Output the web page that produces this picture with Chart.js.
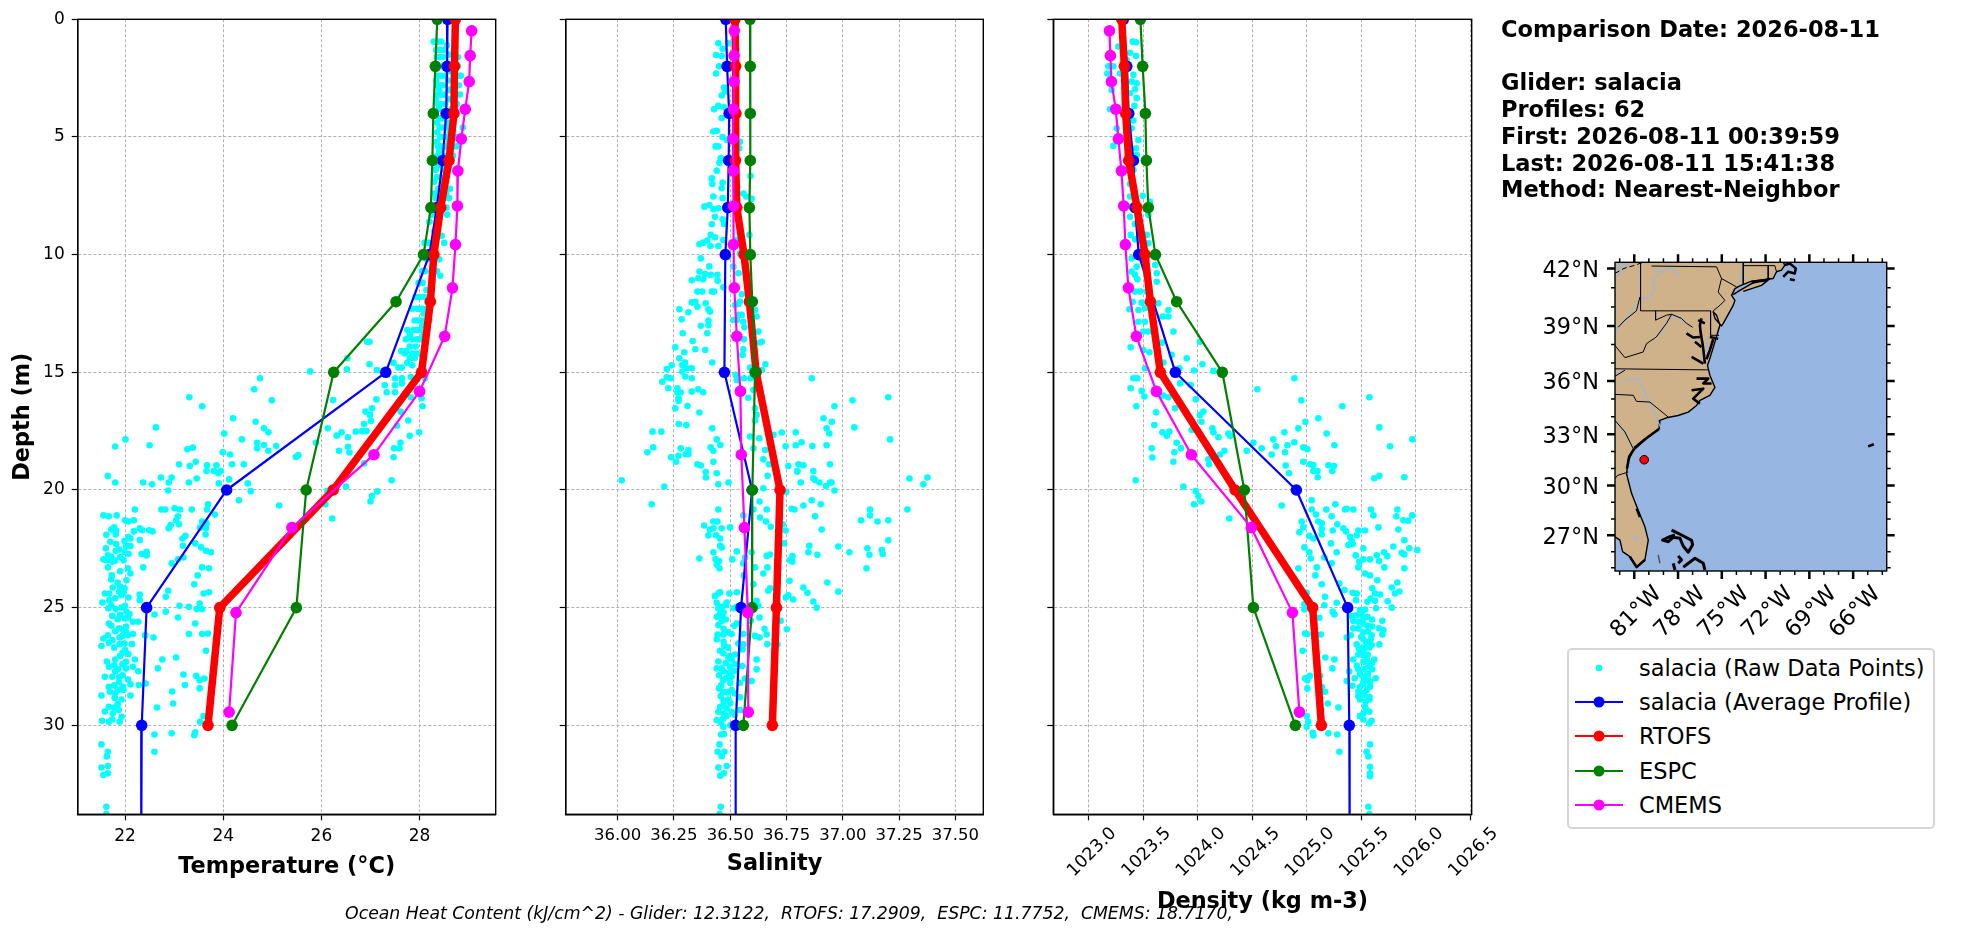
<!DOCTYPE html>
<html>
<head>
<meta charset="utf-8">
<title>salacia comparison</title>
<script src="https://cdn.jsdelivr.net/npm/chart.js@4"></script>
<style>
html, body { margin: 0; padding: 0; background: #fff; width: 1972px; height: 934px; overflow: hidden; }
canvas { position: absolute; top: 0; }
#info { position: absolute; left: 1501px; top: 16px; font: bold 22.5px/26.7px "DejaVu Sans"; white-space: pre; color: #000; }
#ohc { position: absolute; left: 289px; width: 1000px; top: 903px; text-align: center; font: italic 17.3px "DejaVu Sans"; white-space: pre; color: #000; }
#legend { position: absolute; left: 1567px; top: 648px; width: 364px; height: 177px; border: 2px solid #d5d5d5; border-radius: 5px; background: #fff; font: 22.5px "DejaVu Sans"; color: #000; }
#legend div { position: absolute; left: 0; height: 34px; line-height: 34px; white-space: pre; }
#legend svg { position: absolute; left: 6px; top: 0; }
#legend span { position: absolute; left: 70px; }
</style>
</head>
<body>
<canvas id="tempChart"></canvas>
<canvas id="salChart"></canvas>
<canvas id="densChart"></canvas>
<canvas id="mapChart"></canvas>
<div id="info"></div>
<div id="ohc"></div>
<div id="legend"></div>
<script>
// model + glider depth levels (m)
const modelDepth = [0, 2, 4, 6, 8, 10, 12, 15, 20, 25, 30];
const gliderDepth = [0, 2, 4, 6, 8, 10, 15, 20, 25, 30, 35];
const cmemsDepth = [0.49, 1.54, 2.65, 3.82, 5.08, 6.44, 7.93, 9.57, 11.41, 13.47, 15.81, 18.5, 21.6, 25.21, 29.44];

const gliderTemp = [28.57, 28.56, 28.54, 28.47, 28.35, 28.2, 27.31, 24.07, 22.44, 22.34, 22.33];
const rtofsTemp = [28.73, 28.71, 28.7, 28.6, 28.43, 28.29, 28.22, 28.04, 26.24, 23.93, 23.69];
const espcTemp = [28.36, 28.32, 28.28, 28.26, 28.23, 28.08, 27.52, 26.25, 25.69, 25.49, 24.18];
const cmemsTemp = [29.06, 29.03, 29.01, 28.93, 28.85, 28.78, 28.77, 28.73, 28.67, 28.51, 28.0, 27.07, 25.4, 24.26, 24.12];

const gliderSal = [36.48, 36.486, 36.495, 36.493, 36.489, 36.478, 36.474, 36.597, 36.548, 36.524, 36.524];
const rtofsSal = [36.521, 36.524, 36.525, 36.523, 36.529, 36.561, 36.585, 36.615, 36.721, 36.705, 36.687];
const espcSal = [36.588, 36.589, 36.589, 36.589, 36.585, 36.589, 36.598, 36.61, 36.598, 36.597, 36.558];
const cmemsSal = [36.518, 36.517, 36.517, 36.514, 36.512, 36.514, 36.515, 36.514, 36.518, 36.529, 36.545, 36.549, 36.563, 36.578, 36.58];

const gliderDens = [1023.318, 1023.349, 1023.367, 1023.41, 1023.425, 1023.459, 1023.795, 1024.905, 1025.376, 1025.391, 1025.394];
const rtofsDens = [1023.303, 1023.327, 1023.339, 1023.367, 1023.443, 1023.517, 1023.566, 1023.657, 1024.343, 1025.055, 1025.135];
const espcDens = [1023.474, 1023.495, 1023.52, 1023.529, 1023.547, 1023.612, 1023.807, 1024.226, 1024.428, 1024.511, 1024.896];
const cmemsDens = [1023.19, 1023.199, 1023.208, 1023.248, 1023.272, 1023.3, 1023.321, 1023.336, 1023.364, 1023.437, 1023.621, 1023.942, 1024.492, 1024.869, 1024.933];

// raw glider samples, [depth, value]
const rawTemp = [
[0.95,28.29],[0.95,28.36],[0.95,28.44],[1.3,28.34],[1.3,28.42],[1.3,28.5],[1.3,28.7],[1.6,28.35],[1.6,28.4],[1.6,28.48],[1.6,28.72],[1.6,28.78],
[2,28.38],[2,28.45],[2,28.5],[2,28.78],[2.4,28.37],[2.4,28.44],[2.4,28.52],[2.4,28.82],[2.4,28.84],[2.8,28.36],[2.8,28.42],[2.8,28.48],[2.8,28.74],[2.8,28.8],
[3.2,28.38],[3.2,28.44],[3.2,28.5],[3.2,28.74],[3.2,28.82],[3.6,28.38],[3.6,28.44],[3.6,28.52],[3.6,28.76],[4.2,28.4],[4.2,28.46],[4.2,28.5],
[4.6,28.41],[4.6,28.47],[4.6,28.55],[4.6,28.88],[5,28.42],[5,28.46],[5,28.55],[5,28.72],[5,28.8],[5.4,28.38],[5.4,28.44],[5.4,28.52],[5.4,28.75],
[5.8,28.36],[5.8,28.44],[5.8,28.5],[5.8,28.68],[6.2,28.38],[6.2,28.44],[6.2,28.6],[6.7,28.35],[6.7,28.42],[7.2,28.38],[7.2,28.46],[7.2,28.62],
[7.6,28.33],[7.6,28.5],[7.6,28.6],[8,28.24],[8,28.3],[8,28.42],[8,28.55],[8.3,28.25],[8.3,28.56],[8.6,28.2],[9,28.3],[9.2,28.45],[9.5,28.1],[9.5,28.18],[9.5,28.28],[9.5,28.5],
[10.2,28.15],[10.2,28.4],[10.2,28.3],[10.7,28.05],[10.7,28.12],[10.7,28.3],[10.7,28.35],[10.9,28.42],[11.2,27.98],[11.2,28.06],[11.8,27.92],[11.8,28],[11.8,28.1],
[12.3,27.85],[12.3,27.95],[12.3,28],[12.3,28.05],[12.3,28.15],[12.8,27.9],[12.8,27.96],[12.8,28.02],[12.8,28.1],[12.8,28.2],[13.2,27.75],[13.2,27.88],[13.2,27.95],[13.2,28],[13.2,28.16],
[13.6,27.72],[13.6,27.85],[13.6,27.95],[13.6,28],[13.7,26.93],[13.7,26.98],[14.1,27.63],[14.1,27.73],[14.2,27.7],[14.2,27.85],[14.2,27.95],[14.4,26.53],[14.66,26.98],[14.6,27.47],[14.6,27.75],[14.8,27.57],[14.8,27.64],
[14.96,25.77],[14.87,26.52],[14.9,27.13],[15.25,24.75],[15.72,24.63],[16.06,23.31],[16.44,23.57],[16.19,24.99],[16.18,26.24],[16.15,27.12],[16.53,27.03],[16.67,26.9],[16.81,26.99],[17.07,27.01],[17.2,26.87],[17.5,26.83],[17.5,26.92],
[15.04,27.33],[15.25,27.5],[15.25,27.64],[15.2,27.82],[15.25,28.11],[15.55,27.29],[15.55,27.5],[15.47,27.64],[15.85,27.33],[15.85,27.5],[16.06,27.82],[16.1,28.04],[16.44,28.06],[16.67,27.61],[17.05,27.77],[17.27,27.54],[17.55,27.99],[17.7,27.8],[17.99,27.61],[18.23,27.48],[18.23,27.59],[18.61,27.47],
[16.95,24.2],[17.1,24.66],[17.38,24.83],[17.55,24.92],[17.34,22.63],[17.6,24.02],[17.85,24.38],[17.85,22.01],[18.15,21.8],[18.1,22.5],[18.2,23.38],[18.27,23.27],[17.99,24.69],[18.23,24.69],[18.09,24.83],[18.13,25.08],[18.33,24.92],[18.4,23.99],[18.49,24.14],[18.52,25.53],[18.6,25.48],
[17.38,26.13],[17.69,26.31],[17.55,26.41],[17.76,26.54],[17.52,26.7],[17.99,25.89],[18.16,26.54],[18.33,26.36],[18.41,26.57],[18.91,23.1],[18.98,23.32],[18.8,23.44],[18.95,23.67],[18.95,23.86],[18.91,24.18],[18.91,24.42],[19.19,23.66],[19.19,23.81],[19.29,23.9],[19.19,23.95],[18.87,26.87],
[19.41,21.65],[19.68,21.8],[19.68,22.37],[19.76,22.55],[19.47,22.73],[19.47,22.95],[19.68,22.89],[19.68,23.3],[19.51,23.46],[20.02,22.88],[19.72,23.91],[19.55,24.12],[19.72,24.5],[20.05,24.56],[20.44,24.32],[19.59,27.43],[19.85,26.5],[20.06,27.14],[20.26,27.03],[20.49,27],[20.61,26.08],[20.66,25.14],[21.21,26.22],[20.03,26.12],
[20.83,22.2],[21.08,21.56],[21.12,21.67],[21.08,21.83],[21.29,22],[21.34,22.07],[21.29,22.18],[20.83,22.74],[20.83,22.82],[20.78,23.01],[20.83,23.12],[20.83,23.36],[20.61,23.69],[20.83,23.67],[21.04,23.83],[21.12,23.08],[21.29,23.04],[21.49,22.93],[21.63,22.89],[21.46,23.1],[21.34,23.57],[21.42,23.66],[21.6,23.53],[21.63,23.65],[21.89,23.64],
[21.68,21.72],[21.59,21.78],[21.73,21.82],[21.89,21.81],[21.63,22.3],[21.71,22.35],[21.76,22.18],[21.71,22.49],[21.76,22.56],[22,22.07],[22.17,21.99],[22.06,22.11],[22.13,22.3],[21.95,23.23],[22.06,23.17],[22.37,23.18],[22.27,23.43],[22.44,23.55],[22.58,23.65],[22.65,23.75],
[22.48,21.61],[22.53,21.88],[22.38,22.02],[22.38,22.11],[22.58,21.81],[22.63,21.99],[22.72,22.07],[22.72,22.34],[22.63,22.44],[22.78,22.44],[22.95,21.56],[22.77,21.65],[22.84,21.72],[22.98,21.63],[23.05,21.74],[22.98,21.97],[23.29,21.65],[23.33,22.06],[23.29,22.37],[23.55,22.11],[23.63,21.73],
[22.87,23.19],[22.94,23.08],[23.12,22.95],[23.29,23.57],[23.33,23.71],[23.63,23.48],[24.01,23.41],[23.84,22.03],[23.93,21.85],[24.14,21.75],[24.18,21.99],[24.32,21.88],[24.37,21.97],[24.4,21.59],[24.4,21.68],[24.47,21.92],[24.57,22.07],[24.44,22.3],[24.68,22.3],[24.68,21.68],[24.28,22.88],[24.54,22.83],[24.4,23.6],[24.35,23.71],
[24.78,21.54],[24.92,22],[25.03,21.66],[25.06,21.81],[24.99,21.93],[25.17,22.03],[25.27,22.09],[25.29,22.6],[25.17,22.83],[24.92,23.11],[24.96,23.3],[24.82,23.52],[25.06,23.46],[25.06,23.57],[25.42,23.08],[25.67,23.43],[25.49,21.85],[25.46,21.99],[25.42,22.06],[25.6,22.16],[25.6,22.27],[25.67,21.67],[25.77,21.72],[25.88,21.88],[25.95,21.97],
[26.17,22.06],[26.12,22.16],[26.17,22.41],[26.27,22.58],[26.12,23.3],[26.12,23.57],[26.1,23.69],[26.31,21.56],[26.17,21.65],[26.38,21.74],[26.27,21.89],[26.03,22.02],[26.63,21.52],[26.49,21.67],[26.55,21.89],[26.52,21.99],[26.55,22.14],[26.92,21.95],[26.97,22.07],[26.83,23.65],[27.2,22.76],[27.12,23.04],[27.2,22.2],[27.2,21.8],[27.29,21.63],[27.3,22.02],[27.51,21.67],[27.62,21.86],[27.58,22.02],[27.51,22.16],[27.7,22.27],[27.58,22.67],
[27.84,23.19],[27.9,23.45],[28.01,23.62],[28.08,23.52],[27.94,21.59],[27.94,21.74],[27.87,21.95],[28.15,21.88],[28.26,22.11],[28.29,22.28],[28.22,22.42],[28.29,23.22],[28.43,23.52],[28.36,21.67],[28.57,21.69],[28.5,21.85],[28.5,21.97],[28.56,22.96],[28.73,21.52],[28.73,22.11],[28.84,21.79],[28.9,21.93],[29.07,22.98],[29.21,21.67],[29.24,21.78],[29.35,21.87],[29.41,21.59],[29.24,22.65],[29.64,21.93],[29.81,21.53],[29.85,21.67],[29.75,21.74],[29.85,21.89],[29.85,23.53],[29.6,23.6],[30.39,22.6],[30.34,22.95],[30.42,23.41],[30.3,23.43],[30.81,21.52],[31.12,21.65],[31.32,21.63],[31.12,22.6],[31.79,21.52],[31.73,21.65],[32.11,21.56],[32.04,21.65],[33.46,21.62],[33.77,21.62],
// denser parts of the cloud
[1.1,28.56],[1.5,28.6],[1.9,28.33],[2.2,28.6],[2.6,28.34],[2.6,28.58],[3,28.4],[3,28.6],[3.4,28.34],[3.4,28.6],[3.8,28.4],[3.8,28.66],[4.4,28.36],[4.4,28.6],[4.8,28.36],[4.8,28.62],[5.2,28.35],[5.2,28.6],[5.6,28.4],[5.6,28.6],[6,28.32],[6,28.56],[6.4,28.33],[6.4,28.5],[6.9,28.3],[6.9,28.5],[7.4,28.3],[7.4,28.54],[7.9,28.37],[8.4,28.36],[8.8,28.34],
[11.5,28.14],[12,28.16],[12.5,28.08],[13,28.06],[13.4,27.8],[13.4,28.08],[13.9,27.8],[13.9,27.92],[14.4,27.8],[14.4,27.9],[14.7,27.85],
[21.9,21.62],[22.2,21.7],[22.3,21.82],[22.85,21.9],[23,21.8],[23.45,21.9],[23.8,21.72],[24.1,21.9],[24.6,21.8],[24.9,21.72],[25.3,21.9],[25.35,21.74],[25.8,22.02],[26,21.8],[26.2,21.95],[26.7,21.78],[26.8,22],[27.05,21.9],[27.4,21.95],[27.45,21.78],[27.7,21.8],[27.95,21.88],[28.05,22.06],[28.3,21.78],[28.35,21.95],[28.65,21.8],[29.1,21.85],[29.5,21.75]
];
const rawSal = [
[1.02,36.447],[1.25,36.466],[1.02,36.49],[1.52,36.437],[1.56,36.462],[2,36.45],[2.3,36.437],[2.9,36.472],[3.07,36.477],[3.24,36.462],[3.82,36.428],[3.68,36.447],[3.74,36.472],[4.2,36.462],[4.77,36.425],[4.74,36.44],[5,36.466],[5.13,36.484],[5.4,36.435],[5.4,36.447],[5.2,36.543],[5.48,36.54],[5.9,36.458],[6.1,36.452],[6.43,36.44],[6.76,36.418],[7,36.42],[6.94,36.466],[7.18,36.462],[6.66,36.59],[7.53,36.425],[7.6,36.466],[7.4,36.558],[7.53,36.57],[7.63,36.595],[7.96,36.385],[7.89,36.407],[8.07,36.425],[8.03,36.447],[8.39,36.432],[8.5,36.466],[8.71,36.418],[8.7,36.472],[9.16,36.413],[9.26,36.432],[9.16,36.585],[9.4,36.398],[9.49,36.38],[9.56,36.363],[9.63,36.412],[9.63,36.447],[9.38,36.469],[9.38,36.529],[9.94,36.543],[10.16,36.369],[10.5,36.407],[10.1,36.49],[10.51,36.514],[10.79,36.537],[10.72,36.363],[10.82,36.388],[10.86,36.413],[10.86,36.443],[11,36.358],[11.05,36.38],[11.09,36.329],[11.11,36.444],[11.39,36.469],[11.57,36.354],[11.57,36.376],[11.57,36.418],[11.57,36.428],[11.68,36.551],
[12.03,36.329],[12,36.345],[12.07,36.391],[12.21,36.354],[12.32,36.403],[12.42,36.41],[12.32,36.274],[12.45,36.314],[12,36.543],[12.1,36.535],[12.14,36.521],[12.35,36.61],[12.63,36.617],[12.56,36.536],[12.56,36.551],[12.78,36.514],[12.78,36.529],[12.85,36.558],[12.75,36.284],[12.8,36.403],[13.02,36.369],[13,36.403],[13.09,36.563],[13.27,36.625],[13.34,36.289],[13.34,36.398],[13.67,36.333],[13.6,36.561],[13.7,36.64],[13.73,36.632],[13.94,36.256],[14.15,36.296],[14.02,36.345],[14.05,36.389],[14.02,36.558],[14.26,36.555],[14.4,36.274],[14.58,36.299],[14.58,36.42],[14.7,36.24],[14.69,36.287],[14.86,36.218],[14.83,36.307],[14.83,36.329],[14.97,36.287],[14.66,36.656],[14.9,36.64],[14.8,36.588],[15.18,36.299],[15.21,36.218],[15.25,36.235],[15.4,36.198],[15.25,36.329],[15.11,36.524],[15.33,36.529],[15.25,36.561],[15.25,36.59],[15.25,36.862],[15.68,36.225],[15.68,36.265],[15.86,36.265],[15.86,36.28],[15.72,36.358],[15.82,36.329],[15.85,36.38],[16.1,36.27],[16.22,36.27],[16.08,36.58],[15.75,36.603],[16.53,36.256],[16.43,36.31],[16.71,36.363],[16.19,37.043],[16.44,36.963],[16.06,37.202],[16.53,36.61],[16.81,36.617],[17.05,36.61],[16.95,36.914],[17.1,36.951],[17.2,36.271],[17.24,36.305],[17.38,36.42],[17.38,36.928],[17.34,37.051],[17.6,36.94],[17.52,36.155],[17.52,36.194],[17.73,36.588],[17.8,36.629],[17.66,36.692],[17.56,36.729],[17.55,36.791],[17.85,36.44],[17.85,37.21],
[18.19,36.158],[18.4,36.132],[18.09,36.456],[18.19,36.413],[18.33,36.425],[18.23,36.28],[18.3,36.314],[18.48,36.314],[18.48,36.302],[18.14,36.746],[18.1,36.791],[17.97,36.817],[18.13,36.865],[18.1,36.928],[18.23,36.603],[18.3,36.655],[18.61,36.237],[18.55,36.27],[18.8,36.259],[18.8,36.425],[18.7,36.647],[18.91,36.672],[18.91,36.354],[18.96,36.369],[18.98,36.758],[18.91,36.803],[18.95,36.825],[18.91,36.943],[19.19,36.798],[19.19,36.869],[19.24,36.391],[19.29,36.44],[19.4,36.666],[19.5,36.869],
[19.59,36.018],[19.85,36.207],[19.76,36.447],[19.68,36.492],[19.47,36.392],[19.51,37.296],[19.47,37.376],[19.76,37.358],[19.23,36.798],[19.58,36.877],[19.68,36.896],[19.83,36.925],[19.68,36.943],[19.68,36.95],[20.02,36.963],[19.68,36.813],[19.93,36.647],[20.08,36.748],[20.49,36.63],[20.61,36.151],[20.83,36.447],[20.83,36.603],[20.83,36.662],[20.8,36.773],[20.83,36.785],[20.66,36.825],[20.44,36.862],[20.61,36.902],[20.83,37.121],[20.83,37.287],[21.08,37.121],[21.12,36.877],[21.08,36.558],[21.17,36.632],[21.34,36.659],[21.29,37.081],[21.34,37.154],[21.29,37.202],[21.34,36.425],[21.34,36.443],[21.51,36.384],[21.56,36.68],[21.46,36.733],[21.68,36.906],[21.72,36.746],[21.63,36.425],[21.68,36.41],[21.63,36.462],[21.59,36.499],[21.93,36.403],[21.92,36.437],[22.06,36.455],[22.14,37.202],[22.37,36.851],[22.4,36.98],[22.27,36.739],[22.37,36.455],[22.44,36.462],[22.61,36.529],[22.48,37.109],[22.55,37.173],[22.65,37.029],[22.65,36.847],[22.75,36.887],[22.75,37.118],[22.72,37.177],[22.65,36.595],[22.65,36.425],[22.91,36.363],[22.95,36.435],[23.02,36.45],[22.95,36.509],[22.87,36.566],[22.8,36.662],[22.74,36.677],[22.81,36.776],[22.98,36.766],[23.05,36.776],[23.12,36.558],[23.18,36.44],[23.33,36.452],[23.29,36.61],[23.29,36.665],[23.33,37.105],[23.55,36.647],[23.63,36.561],[23.86,36.763],[23.93,36.931],[24.01,36.603],[24.14,36.825],[24.28,36.669],[24.18,36.677],[24.37,36.843],[24.32,36.98],
[24.51,36.432],[24.4,36.447],[24.35,36.455],[24.4,36.496],[24.35,36.529],[24.47,36.758],[24.57,36.746],[24.65,36.78],[24.74,36.869],[24.71,36.617],[24.79,36.44],[24.96,36.462],[24.78,36.484],[25.03,36.447],[25,36.884],[24.92,36.625],[25.03,36.514],[24.96,36.529],[25.39,36.44],[25.39,36.466],[25.27,36.455],[25.42,36.63],[25.56,36.591],[25.56,36.724],[25.57,36.462],[25.74,36.447],[25.77,36.518],[25.67,36.529],[25.9,36.652],[25.92,36.751],[26.14,36.662],[26.14,36.444],[26.14,36.469],[26.12,36.506],[26.12,36.558],[26.2,36.61],[26.27,36.63],[26.34,36.44],[26.52,36.536],[26.56,36.558],[26.55,36.665],[26.56,36.71],[26.63,36.474],[26.83,36.455],[26.78,36.555],[26.99,36.521],[27.12,36.492],[27.2,36.506],[27.2,36.617],[27.29,36.447],[27.48,36.554],[27.58,36.44],[27.58,36.462],[27.51,36.499],[27.62,36.617],[27.68,36.521],[27.87,36.45],[27.8,36.492],[27.94,36.506],[28.08,36.469],[28.12,36.595],[28.01,36.566],[28.19,36.543],[28.43,36.45],[28.5,36.506],[28.57,36.469],[28.76,36.458],[28.81,36.543],[28.9,36.492],[29.21,36.455],[29.28,36.484],[29.42,36.447],[29.42,36.506],[29.35,36.543],[29.78,36.44],[29.71,36.469],[29.6,36.484],[30.06,36.469],[30.39,36.459],[30.37,36.472],[30.81,36.452],[31.12,36.444],[31.12,36.474],[31.31,36.462],[31.79,36.447],[31.73,36.484],[32.14,36.455],[32.04,36.472],[33.46,36.458],[33.77,36.452],
// denser parts of the cloud
[24.9,36.48],[25.2,36.47],[25.5,36.48],[25.9,36.47],[26.05,36.49],[26.45,36.47],[26.7,36.49],[26.95,36.47],[27.05,36.5],[27.35,36.48],[27.4,36.52],[27.7,36.47],[27.75,36.5],[28,36.48],[28.2,36.5],[28.3,36.46],[28.6,36.49],[28.65,36.52],[28.95,36.47],[29.05,36.5],[29.15,36.47],[29.5,36.47],[29.55,36.52],[29.9,36.46],[30,36.5]
];
const rawDens = [
[0.95,1023.404],[0.98,1023.434],[1.16,1023.272],[1.42,1023.379],[1.56,1023.434],[1.73,1023.349],[2,1023.18],[2,1023.226],[2.3,1023.171],[2.3,1023.287],[2.36,1023.41],[2.65,1023.196],[2.65,1023.394],[2.72,1023.44],[3,1023.211],[2.97,1023.425],[3.14,1023.379],[3.35,1023.44],[3.68,1023.419],[3.82,1023.196],[4.3,1023.41],[4.63,1023.394],[4.63,1023.257],[5.38,1023.226],[5.13,1023.456],[5.48,1023.434],[5.76,1023.44],[6.4,1023.41],[6.6,1023.394],[7,1023.379],[7.5,1023.495],[7.53,1023.379],[7.75,1023.563],[7.96,1023.394],[8.39,1023.379],[8.31,1023.547],[8.7,1023.425],[9.16,1023.385],[9.16,1023.532],[9.35,1023.425],[9.52,1023.547],[10.16,1023.394],[10.44,1023.609],[10.51,1023.44],[10.72,1023.394],[10.79,1023.624],[10.86,1023.425],[11.05,1023.446],[11.15,1023.624],[11.57,1023.471],[11.57,1023.425],[11.57,1023.532],[12,1023.404],[12.04,1023.486],[12.07,1023.639],[12.32,1023.373],[12.35,1023.456],[12.28,1023.517],[12.35,1023.731],[12.63,1023.679],[12.63,1023.731],[12.85,1023.456],[12.85,1023.517],[13.27,1023.502],[13.27,1023.547],[13.27,1023.777],[13.7,1024.021],[13.74,1023.67],[13.94,1023.385],[14.05,1023.502],[14.15,1023.557],[14.26,1023.761],[14.4,1023.899],[14.58,1023.685],[14.66,1024.043],[14.83,1023.517],[14.83,1023.832],[14.92,1023.966],[14.94,1024.144],[15.25,1023.41],[15.25,1023.446],[15.47,1023.838],[15.54,1023.936],[15.25,1024.887],[15.68,1023.385],[15.79,1023.486],[15.72,1024.547],[16.03,1023.511],[15.99,1023.685],[16.06,1023.731],[16.15,1023.982],[16.19,1024.951],[16.06,1025.575],[16.44,1023.437],[16.53,1023.792],[16.44,1025.327],[16.7,1023.618],[16.81,1024.021],[16.67,1024.052],[16.95,1025.107],[17.1,1024.988],[17.1,1024.034],[17.24,1023.602],[17.38,1024.924],[17.34,1025.667],[17.38,1024.135],[17.45,1023.945],[17.55,1024.144],[17.6,1025.183],[17.55,1024.795],[17.55,1023.676],[17.52,1023.74],[17.7,1023.716],[17.76,1024.19],[17.6,1024.281],[17.7,1024.297],[17.85,1024.694],[17.85,1025.969],[17.99,1024.511],[17.97,1024.887],[18.1,1024.823],[18.14,1024.719],[18.1,1025.254],[18.14,1025.765],[17.99,1023.807],[18.23,1023.578],[18.23,1024.587],[18.19,1024.969],[18.27,1025.006],[18.23,1023.847],[18.4,1023.786],[18.33,1024.45],[18.33,1024.245],[18.4,1024.801],[18.49,1024.679],[18.49,1024.205],[18.62,1023.584],[18.7,1024.098],[18.8,1023.777],[18.91,1024.104],[18.96,1024.807],[18.8,1024.969],[18.91,1025.031],[18.94,1025.061],[18.95,1025.199],[18.98,1025.251],[19.19,1025.061],[19.19,1025.098],[19.19,1025.235],[19.29,1024.838],[19.46,1025.101],[19.46,1025.896],[19.4,1025.667],[19.5,1025.62],
[19.59,1023.431],[19.85,1023.869],[20.05,1023.982],[20.26,1024.006],[20.49,1024.034],[20.61,1023.966],[21.21,1024.29],[20.66,1024.771],[20.44,1025.046],[20.83,1025.046],[20.61,1025.263],[20.83,1025.18],[20.83,1025.352],[20.8,1025.367],[20.83,1025.428],[21.04,1025.086],[21.12,1025.229],[20.83,1025.59],[21.08,1025.612],[20.83,1025.832],[21.12,1025.823],[21.08,1025.969],[21.29,1025.887],[21.31,1025.933],[21.34,1024.954],[21.34,1025.107],[21.42,1025.138],[21.46,1025.281],[21.59,1024.969],[21.8,1024.933],[21.66,1025.138],[21.72,1025.239],[21.63,1025.336],[21.76,1025.361],[21.72,1025.535],[21.59,1025.658],[21.68,1025.841],[21.72,1025.474],[21.92,1025.459],[21.89,1025.138],[21.95,1025.024],[22.06,1025.061],[21.99,1025.398],[22.16,1025.413],[22.27,1025.223],[22.34,1025.382],[22.3,1025.422],[22.14,1025.896],[22.48,1025.52],[22.4,1025.795],[22.48,1025.942],[22.55,1026.015],[22.44,1024.979],[22.65,1025.024],[22.65,1025.275],[22.77,1025.642],[22.65,1025.71],[22.81,1025.74],[22.67,1025.872],[22.74,1025.896],[22.78,1025.45],[22.91,1025.037],[22.87,1025.162],[22.95,1025.52],[22.95,1025.581],[23.02,1025.664],[23.05,1025.483],[23.12,1025.229],[23.33,1024.924],[23.29,1025.092],[23.29,1025.474],[23.29,1025.713],[23.33,1025.896],[23.55,1025.535],[23.63,1025.581],[23.63,1025.08],[23.84,1025.648],[24.01,1025.138],[23.97,1025.3],[23.93,1025.832],[24.14,1025.78],[24.18,1025.602],[24.25,1025.346],[24.31,1025.85],[24.4,1025.81],[24.37,1025.422],[24.4,1025.459],[24.4,1025.627],[24.44,1025.673],[24.37,1025],[24.54,1025.168],[24.68,1025.453],[24.61,1025.587],[24.73,1025.743],[24.71,1025.627],[24.85,1024.979],[24.9,1025.162],[24.79,1025.275],[25,1025.78],[25.03,1025.636],[24.75,1025.557],
[25.08,1024.979],[25.1,1025.489],[25.08,1025.535],[25.17,1025.239],[25.29,1025.254],[25.43,1025.116],[25.36,1025.413],[25.32,1025.459],[25.39,1025.557],[25.27,1025.504],[25.56,1025.694],[25.57,1025.428],[25.6,1025.474],[25.67,1025.52],[25.77,1025.557],[25.88,1025.428],[25.88,1025.474],[25.88,1025.664],[25.95,1025.703],[26.05,1025.52],[26.14,1025.694],[26.1,1024.985],[26.12,1025.006],[26.14,1025.129],[26.17,1025.596],[26.27,1025.367],[26.17,1025.404],[26.34,1025.52],[26.34,1025.587],[26.56,1025.667],[26.56,1025.459],[26.56,1025.566],[26.59,1025.596],[26.69,1025.52],[26.69,1025.575],[26.83,1024.963],[26.83,1025.52],[26.99,1025.474],[27.02,1025.52],[27.12,1025.171],[27.2,1025.254],[27.2,1025.428],[27.2,1025.55],[27.2,1025.62],[27.47,1025.459],[27.48,1025.566],[27.58,1025.235],[27.62,1025.474],[27.62,1025.602],[27.71,1025.391],[27.82,1025.489],[27.94,1025.52],[27.91,1025.557],[28,1024.985],[27.89,1025.031],[28.08,1025.006],[27.89,1025.122],[28.12,1025.367],[28,1025.633],[28.15,1025.52],[28.15,1025.581],[28.32,1025.419],[28.36,1025.489],[28.36,1025.581],[28.43,1025.006],[28.36,1025.138],[28.57,1025.168],[28.57,1025.474],[28.64,1025.52],[28.76,1025.474],[28.79,1025.575],[28.9,1025.575],[28.9,1025.489],[29.07,1025.193],[29.24,1025.291],[29.21,1025.535],[29.35,1025.55],[29.42,1025.575],[29.6,1025],[29.61,1025.489],[29.75,1025.52],[29.81,1025.596],[29.85,1025.015],[29.92,1025.575],[30.06,1025],[30.32,1025.055],[30.43,1025.061],[30.34,1025.199],[30.39,1025.281],[30.81,1025.581],[31.12,1025.55],[31.12,1025.3],[31.32,1025.566],[31.76,1025.581],[32.04,1025.581],[32.16,1025.581],[33.46,1025.566],[33.77,1025.575],
// denser parts of the cloud
[25.45,1025.52],[25.5,1025.6],[25.8,1025.6],[26,1025.56],[26.25,1025.5],[26.45,1025.54],[26.75,1025.48],[27,1025.56],[27.3,1025.52],[27.35,1025.6],[27.6,1025.53],[27.8,1025.56],[28,1025.44],[28.05,1025.56],[28.25,1025.52],[28.5,1025.55],[28.7,1025.52],[29,1025.54],[29.5,1025.52]
];

const legendLabels = ['salacia (Raw Data Points)', 'salacia (Average Profile)', 'RTOFS', 'ESPC', 'CMEMS'];
const legendColors = ['cyan', 'blue', 'red', 'green', 'magenta'];
const infoLines = ['Comparison Date: 2026-08-11', '', 'Glider: salacia', 'Profiles: 62', 'First: 2026-08-11 00:39:59', 'Last: 2026-08-11 15:41:38', 'Method: Nearest-Neighbor'];
const ohcText = 'Ocean Heat Content (kJ/cm^2) - Glider: 12.3122,  RTOFS: 17.2909,  ESPC: 11.7752,  CMEMS: 18.7170,';

// map outlines, [lon, lat]
const mapLonTicks = [-81, -78, -75, -72, -69, -66];
const mapLatTicks = [27, 30, 33, 36, 39, 42];
const mapLonMinor = [-82, -80, -79, -77, -76, -74, -73, -71, -70, -68, -67, -65, -64];
const mapLatMinor = [25, 26, 28, 29, 31, 32, 34, 35, 37, 38, 40, 41];
const gliderPos = [[-80.32, 31.52]];
const landOutline = [[-82.32,42.31],[-70.79,42.31],[-70.68,42.17],[-70.91,41.91],[-71.25,41.83],[-71.48,41.48],[-72.96,41.35],[-73.76,41.1],[-74.1,40.96],[-74.33,40.61],[-74.1,40.35],[-74.22,40.09],[-74.9,39.14],[-75.02,39],[-75.47,39.4],[-75.59,39.75],[-75.36,39.57],[-75.13,39.05],[-75.47,38.15],[-75.82,37.24],[-75.98,36.87],[-75.82,36.33],[-75.47,35.65],[-75.82,35.21],[-76.5,34.93],[-76.73,34.64],[-77.3,34.26],[-77.99,34.07],[-78.79,33.94],[-79.24,33.79],[-79.29,33.32],[-80.16,32.75],[-81.07,32.06],[-81.41,31.48],[-81.53,30.7],[-81.18,29.52],[-80.73,28.52],[-80.27,27.52],[-80.04,26.71],[-80.27,25.49],[-80.84,25.04],[-81.3,25.69],[-81.8,26],[-81.98,26.71],[-82.32,26.9]];
const longIsland = [[-74.22,40.65],[-73.76,40.87],[-72.96,41.22],[-71.71,41.48],[-72.28,41.13],[-73.53,40.82]];
const capeCod = [[-70.68,42.17],[-70.34,42.25],[-69.93,42],[-70,41.74],[-70.45,41.83],[-70.79,41.57]];
const capeIslands = [[-70.34,41.44],[-70,41.39]];
const bahamas = [
  [[-78.44,27.32],[-77.76,27.02],[-77.07,26.69],[-77,26.43],[-77.3,25.96],[-77.64,26.33],[-77.87,26.82],[-78.33,26.88],[-78.67,26.61],[-79.06,26.71],[-78.56,26.92],[-78.21,27.02]],
  [[-77.99,25.74],[-77.76,25.49],[-77.99,25.28]],
  [[-78.33,25.28],[-78.21,24.87]],
  [[-77.64,25.04],[-76.84,25.59],[-76.27,25.28],[-76.16,24.87]]
];
const bahamasShallow = [[-79.36,25.8],[-79.24,25.28]];
const bermuda = [[-64.97,32.3],[-64.58,32.42]];
const coastDetail = [
  [[-81.0,32.16],[-81.35,31.7],[-81.5,31.0]],
  [[-81.0,32.2],[-80.2,32.75],[-79.3,33.3]],
  [[-80.84,28.62],[-80.61,28.12]],
  [[-81.3,25.69],[-80.84,25.04],[-80.27,25.49]],
  [[-76.39,39.4],[-76.5,39.05],[-76.46,38.69],[-76.32,38.05],[-76.23,37.5],[-76.16,36.96]],
  [[-77.42,38.6],[-76.96,38.38],[-76.5,38.41]],
  [[-76.84,38.15],[-76.39,37.87]],
  [[-77.07,37.33],[-76.27,36.96]],
  [[-76.62,39.31],[-76.16,39.14]],
  [[-75.59,38.3],[-75.82,37.7],[-76.05,37.2]],
  [[-75.82,38.41],[-75.25,38.32]],
  [[-76.73,36.14],[-75.93,36.14],[-76.27,35.87],[-75.7,35.87]],
  [[-77.07,35.49],[-76.27,35.58],[-76.96,35.02],[-76.5,34.74]],
  [[-72.96,41.3],[-71.9,41.4]]
];
const stateLines = [
  [[-80.57,42.31],[-80.57,39.8],[-75.77,39.8]],
  [[-79.81,42.12],[-75.36,42.08],[-75.02,41.48],[-73.99,41.05]],
  [[-75.02,41.48],[-75.25,40.78],[-74.79,40.35],[-75.13,40.09],[-75.59,39.8]],
  [[-73.53,42.31],[-73.53,41.2]],
  [[-73.53,42.14],[-71.37,42.14],[-71.25,41.83]],
  [[-71.82,42.14],[-71.82,41.48]],
  [[-79.54,39.8],[-79.54,39.31],[-78.79,39.57],[-78.44,39.62],[-77.76,39.4],[-77.42,39.14],[-77,38.93]],
  [[-80.61,40.53],[-80.85,39.8],[-81.64,39.31],[-82.1,38.93]],
  [[-82.32,37.95],[-81.64,37.29],[-80.39,37.6],[-80.16,38.05],[-79.49,38.41],[-78.79,39.14],[-78.44,39.62]],
  [[-82.32,36.68],[-75.93,36.62]],
  [[-82.32,36.27],[-81.64,36.6]],
  [[-82.32,35.26],[-81.07,35.21],[-80.85,34.87],[-79.93,34.83],[-78.67,33.98]],
  [[-82.32,33.79],[-81.64,33.13],[-81.07,32.16]],
  [[-82.32,30.41],[-82.15,30.6],[-81.41,30.8]],
  [[-75.77,39.8],[-75.77,38.5],[-75.18,38.5]]
];
const riverLines = [
  [[-79.7,41.85],[-79,41.85],[-78.79,42.05],[-78.33,42],[-78.2,41.72],[-77.85,41.72]],
  [[-78.9,41.95],[-79.81,41.4],[-79.6,40.9],[-79.93,40.5],[-80.57,40.44]],
  [[-80.8,40.2],[-81.64,39.31],[-82.1,39.0],[-82.32,38.5]],
  [[-79.4,38.4],[-78.79,39.14],[-78.33,39.6],[-77.42,39.14]],
  [[-73.4,42.31],[-73.85,41.2]],
  [[-81.64,36.0],[-80.73,36.14],[-80.27,35.4],[-79.2,33.4]],
  [[-82.32,36.3],[-81.64,36.68]],
  [[-82.32,33.79],[-81.53,32.9],[-81,32]],
  [[-75.95,38.4],[-76.05,37.3]]
];
const lakeErie = [[-82.32,41.5],[-81.18,42.31],[-82.32,42.31]];
const lakeOkeechobee = [[-81.12,26.82],[-80.89,27],[-80.66,26.82],[-80.89,26.62]];
const erieBorder = [[-82.32,41.75],[-81.7,42],[-81.0,42.15],[-80.4,42.31]];

function mercY(lat) {
  return Math.log(Math.tan(Math.PI / 4 + lat * Math.PI / 360)) * 180 / Math.PI;
}

function toPoints(depths, values) {
  return depths.map((d, i) => ({ x: values[i], y: d }));
}
function rawPoints(rows) {
  return rows.map(r => ({ x: r[1], y: r[0] }));
}
function toMap(rows) {
  return rows.map(r => ({ x: r[0], y: mercY(r[1]) }));
}

const framePlugin = {
  id: 'frame',
  afterDraw(chart) {
    const a = chart.chartArea, ctx = chart.ctx;
    ctx.save();
    ctx.strokeStyle = '#000';
    ctx.lineWidth = 1.4;
    ctx.strokeRect(a.left, a.top, a.width, a.height);
    ctx.restore();
  }
};

function profileLine(label, depths, values, color, width, order) {
  return {
    label, data: toPoints(depths, values), showLine: true, borderColor: color, backgroundColor: color,
    borderWidth: width, pointRadius: 5.8, pointBorderWidth: 0, borderJoinStyle: 'round', order, clip: 0
  };
}

// plot box edges are in page pixels
function makeProfile(id, box, opts) {
  const canvas = document.getElementById(id);
  const marginL = box.left - box.canvasLeft;
  const canvasW = Math.ceil(box.right - box.canvasLeft) + 40;
  canvas.style.left = box.canvasLeft + 'px';
  canvas.width = canvasW;
  canvas.height = 934;
  return new Chart(canvas, {
    type: 'scatter',
    data: { datasets: opts.datasets },
    plugins: [framePlugin],
    options: {
      responsive: false, animation: false, devicePixelRatio: 1,
      layout: { padding: { top: box.top, right: canvasW - (box.right - box.canvasLeft), left: 0, bottom: 0 } },
      plugins: { legend: { display: false }, tooltip: { enabled: false } },
      scales: {
        x: {
          type: 'linear', min: opts.xMin, max: opts.xMax,
          afterFit(s) { s.height = 934 - box.bottom; s.paddingLeft = 0; s.paddingRight = 0; },
          title: { display: true, text: opts.title, color: '#000', font: { family: 'DejaVu Sans', size: 22.4, weight: 'bold' }, padding: { top: 0, bottom: opts.titleBottom } },
          ticks: {
            stepSize: opts.step, includeBounds: false, color: '#000', padding: opts.rot ? 3 : 6, autoSkip: false,
            minRotation: opts.rot || 0, maxRotation: opts.rot || 0, labelOffset: opts.rot ? 25 : 0,
            font: { family: 'DejaVu Sans', size: opts.tickSize },
            callback: opts.tickFormat
          },
          grid: { color: '#b0b0b0', lineWidth: 1, tickColor: '#000', tickLength: 6, tickWidth: 1.2 },
          border: { color: '#000', width: 1.4, dash: [3, 2] }
        },
        y: {
          type: 'linear', reverse: true, min: 0, max: 33.78,
          afterFit(s) { s.width = marginL; s.paddingTop = 0; s.paddingBottom = 0; },
          title: { display: opts.yLabel, text: 'Depth (m)', color: '#000', font: { family: 'DejaVu Sans', size: 22.4, weight: 'bold' }, padding: { top: 10, bottom: 0 } },
          ticks: { stepSize: 5, includeBounds: false, display: opts.yLabel, color: '#000', padding: 7, font: { family: 'DejaVu Sans', size: 17 } },
          grid: { color: '#b0b0b0', lineWidth: 1, tickColor: '#000', tickLength: 6, tickWidth: 1.2 },
          border: { color: '#000', width: 1.4, dash: [3, 2] }
        }
      }
    }
  });
}

function profileSets(raw, glider, rtofs, espc, cmems) {
  return [
    { label: legendLabels[0], data: rawPoints(raw), backgroundColor: 'cyan', pointRadius: 3.3, pointBorderWidth: 0, order: 4, clip: 0 },
    profileLine(legendLabels[1], gliderDepth, glider, 'blue', 2.2, 3),
    profileLine(legendLabels[2], modelDepth, rtofs, 'red', 7.5, 2),
    profileLine(legendLabels[3], modelDepth, espc, 'green', 2.2, 1),
    profileLine(legendLabels[4], cmemsDepth, cmems, 'magenta', 2.2, 0)
  ];
}

makeProfile('tempChart', { canvasLeft: 0, left: 77.7, right: 495.7, top: 19.3, bottom: 814.3 }, {
  xMin: 21.036, xMax: 29.55, step: 2, title: 'Temperature (°C)', titleBottom: 53, yLabel: true, tickSize: 17,
  datasets: profileSets(rawTemp, gliderTemp, rtofsTemp, espcTemp, cmemsTemp)
});
makeProfile('salChart', { canvasLeft: 530, left: 565.7, right: 983.3, top: 19.3, bottom: 814.3 }, {
  xMin: 35.769, xMax: 37.624, step: 0.25, title: 'Salinity', titleBottom: 56, yLabel: false, tickSize: 16.5,
  tickFormat: v => v.toFixed(2),
  datasets: profileSets(rawSal, gliderSal, rtofsSal, espcSal, cmemsSal)
});
makeProfile('densChart', { canvasLeft: 1030, left: 1053.3, right: 1471.7, top: 19.3, bottom: 814.3 }, {
  xMin: 1022.675, xMax: 1026.514, step: 0.5, title: 'Density (kg m-3)', titleBottom: 18, yLabel: false, tickSize: 17.5, rot: 45,
  tickFormat: v => v.toFixed(1),
  datasets: profileSets(rawDens, gliderDens, rtofsDens, espcDens, cmemsDens)
});

// map panel
function mapLine(rows, color, width, extra) {
  return Object.assign({ data: toMap(rows), showLine: true, borderColor: color, borderWidth: width, pointRadius: 0, clip: 0, borderJoinStyle: 'round' }, extra || {});
}
const mapDatasets = [
  { data: toMap(gliderPos), backgroundColor: 'red', borderColor: '#000', pointRadius: 4.3, pointBorderWidth: 1, order: 0, clip: 0 },
  mapLine(bermuda, '#000', 2.5, { order: 1 }),
  mapLine(landOutline, '#000', 1.4, { fill: 'shape', backgroundColor: '#cfb28a', order: 5 }),
  mapLine(longIsland, '#000', 1.5, { fill: 'shape', backgroundColor: '#cfb28a', order: 4 }),
  mapLine(capeCod, '#000', 2.5, { order: 4 }),
  mapLine(capeIslands, '#000', 2.5, { order: 4 }),
  mapLine(lakeErie, '#b0b0b0', 1, { fill: 'shape', backgroundColor: '#b3b3b3', order: 3 }),
  mapLine(lakeOkeechobee, '#b3b3b3', 1, { fill: 'shape', backgroundColor: '#b3b3b3', order: 3 }),
  mapLine(erieBorder, '#000', 1, { borderDash: [5, 3], order: 2 }),
  mapLine(bahamasShallow, '#555', 1.5, { order: 2 })
];
bahamas.forEach(b => mapDatasets.push(mapLine(b, '#000', 3, { order: 2 })));
riverLines.forEach(r => mapDatasets.push(mapLine(r, '#97b6e1', 1.2, { order: 3 })));
stateLines.forEach(r => mapDatasets.push(mapLine(r, '#000', 1, { order: 2 })));
coastDetail.forEach(r => mapDatasets.push(mapLine(r, '#000', 2.6, { order: 2 })));

const mapDecor = {
  id: 'mapDecor',
  beforeDatasetsDraw(chart) {
    const a = chart.chartArea, ctx = chart.ctx;
    ctx.save();
    ctx.fillStyle = '#97b6e1';
    ctx.fillRect(a.left, a.top, a.width, a.height);
    ctx.restore();
  },
  afterDraw(chart) {
    const a = chart.chartArea, ctx = chart.ctx, xs = chart.scales.x, ys = chart.scales.y;
    ctx.save();
    ctx.strokeStyle = '#000';
    const tickX = (v, len, w) => {
      const p = xs.getPixelForValue(v);
      ctx.lineWidth = w;
      ctx.beginPath();
      ctx.moveTo(p, a.top); ctx.lineTo(p, a.top - len);
      ctx.moveTo(p, a.bottom); ctx.lineTo(p, a.bottom + len);
      ctx.stroke();
    };
    const tickY = (lat, len, w) => {
      const p = ys.getPixelForValue(mercY(lat));
      ctx.lineWidth = w;
      ctx.beginPath();
      ctx.moveTo(a.left, p); ctx.lineTo(a.left - len, p);
      ctx.moveTo(a.right, p); ctx.lineTo(a.right + len, p);
      ctx.stroke();
    };
    mapLonTicks.forEach(v => tickX(v, 8, 2.5));
    mapLatTicks.forEach(v => tickY(v, 8, 2.5));
    mapLonMinor.forEach(v => tickX(v, 4, 1.5));
    mapLatMinor.forEach(v => tickY(v, 4, 1.5));
    ctx.restore();
  }
};

const mapCanvas = document.getElementById('mapChart');
mapCanvas.style.left = '1500px';
mapCanvas.style.top = '240px';
mapCanvas.width = 472;
mapCanvas.height = 420;
new Chart(mapCanvas, {
  type: 'scatter',
  data: { datasets: mapDatasets },
  plugins: [mapDecor, framePlugin],
  options: {
    responsive: false, animation: false, devicePixelRatio: 1,
    layout: { padding: { top: 22.3, right: 85.3, left: 0, bottom: 0 } },
    plugins: { legend: { display: false }, tooltip: { enabled: false } },
    scales: {
      x: {
        type: 'linear', min: -82.32, max: -63.7,
        afterFit(s) { s.height = 420 - 331; s.paddingLeft = 0; s.paddingRight = 0; },
        afterBuildTicks(s) { s.ticks = mapLonTicks.map(v => ({ value: v })); },
        ticks: { color: '#000', padding: 10, autoSkip: false, minRotation: 45, maxRotation: 45, labelOffset: 24,
          font: { family: 'DejaVu Sans', size: 22.4 }, callback: v => Math.abs(v) + '°W' },
        grid: { drawOnChartArea: false, drawTicks: false, tickLength: 8 },
        border: { display: false }
      },
      y: {
        type: 'linear', min: mercY(24.8), max: mercY(42.31),
        afterFit(s) { s.width = 115; s.paddingTop = 0; s.paddingBottom = 0; },
        afterBuildTicks(s) { s.ticks = mapLatTicks.map(v => ({ value: mercY(v) })); },
        ticks: { color: '#000', padding: 16, autoSkip: false, labelOffset: 2.5, font: { family: 'DejaVu Sans', size: 22.4 },
          callback: (v, i) => mapLatTicks[i] + '°N' },
        grid: { drawOnChartArea: false, drawTicks: false, tickLength: 8 },
        border: { display: false }
      }
    }
  }
});

document.getElementById('info').textContent = infoLines.join('\n');
document.getElementById('ohc').textContent = ohcText;

// legend box, same marker/line look as the axes
const legendBox = document.getElementById('legend');
legendLabels.forEach((name, i) => {
  const row = document.createElement('div');
  row.style.top = (1 + i * 34.2) + 'px';
  const c = legendColors[i];
  const handle = i === 0
    ? `<circle cx="24" cy="17" r="3.3" fill="${c}"/>`
    : `<line x1="0" y1="17" x2="48" y2="17" stroke="${c}" stroke-width="2"/><circle cx="24" cy="17" r="5.5" fill="${c}"/>`;
  row.innerHTML = `<svg width="50" height="34">${handle}</svg><span>${name}</span>`;
  legendBox.appendChild(row);
});
</script>
</body>
</html>
